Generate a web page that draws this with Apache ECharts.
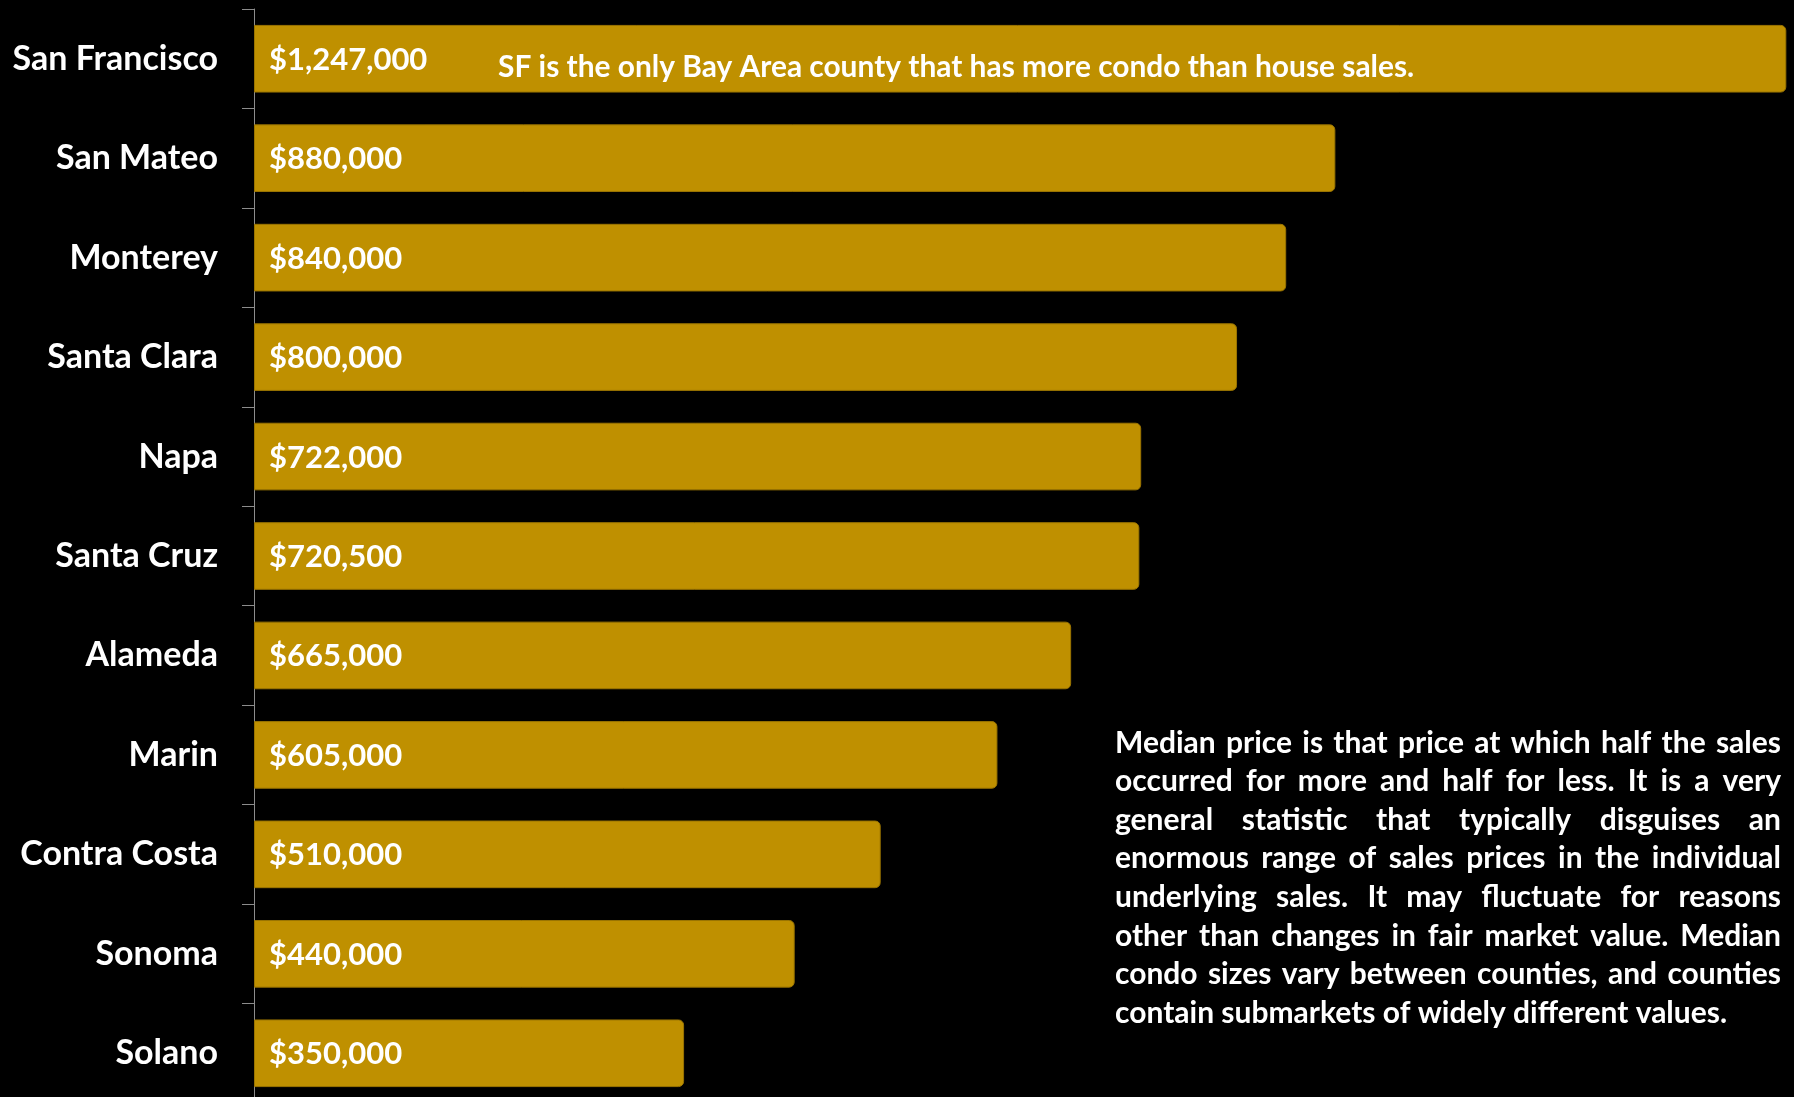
<!DOCTYPE html>
<html>
<head>
<meta charset="utf-8">
<title>Median Condo Prices by County</title>
<script src="https://cdn.jsdelivr.net/npm/echarts@6/dist/echarts.min.js"></script>
<style>
  html, body { margin: 0; padding: 0; background: #000; overflow: hidden; }
  /* the last band runs a few pixels past the bottom of the window */
  #chart { width: 1794px; height: 1103px; }
</style>
</head>
<body>
<div id="chart"></div>
<script>
// Counties, top to bottom
const categories = [
  'San Francisco', 'San Mateo', 'Monterey', 'Santa Clara', 'Napa',
  'Santa Cruz', 'Alameda', 'Marin', 'Contra Costa', 'Sonoma', 'Solano'
];
// Median condo sale price per county (USD)
const medianPrices = [
  1247000, 880000, 840000, 800000, 722000,
  720500, 665000, 605000, 510000, 440000, 350000
];
const sfNote = 'SF is the only Bay Area county that has more condo than house sales.';
const medianNoteLines = [
  'Median price is that price at which half the sales',
  'occurred for more and half for less. It is a very',
  'general statistic that typically disguises an',
  'enormous range of sales prices in the individual',
  'underlying sales. It may fluctuate for reasons',
  'other than changes in fair market value. Median',
  'condo sizes vary between counties, and counties',
  'contain submarkets of widely different values.'
];

const FONT = 'Lato, "Open Sans", sans-serif';
const GOLD = '#BF9000';

const chart = echarts.init(document.getElementById('chart'), null, { renderer: 'canvas' });

// Justified paragraph: each word placed so every line but the last spans the block width
function justifiedParagraph(lines, left, firstY, width, lineHeight, fontSize) {
  const ctx = document.createElement('canvas').getContext('2d');
  const font = 'bold ' + fontSize + 'px ' + FONT;
  ctx.font = font;
  const spaceW = ctx.measureText(' ').width;
  const elements = [];
  lines.forEach((line, i) => {
    const words = line.split(' ');
    const widths = words.map(w => ctx.measureText(w).width);
    const total = widths.reduce((a, b) => a + b, 0);
    const last = i === lines.length - 1;
    const gap = (last || words.length < 2) ? spaceW : (width - total) / (words.length - 1);
    let x = left;
    const y = firstY + i * lineHeight;
    words.forEach((w, k) => {
      elements.push({
        type: 'text',
        x: x,
        y: y,
        z: 100,
        style: {
          text: w,
          fill: '#fff',
          font: font,
          textAlign: 'left',
          textVerticalAlign: 'middle'
        },
        silent: true
      });
      x += widths[k] + gap;
    });
  });
  return elements;
}

const option = {
  backgroundColor: '#000',
  animation: false,
  grid: { left: 254, right: 4, top: 9, bottom: 0, containLabel: false },
  xAxis: {
    type: 'value',
    min: 0,
    max: 1250000,
    show: false
  },
  yAxis: {
    type: 'category',
    data: categories,
    inverse: true,
    axisLine: { show: true, lineStyle: { color: '#8c8c8c', width: 1 } },
    axisTick: { show: true, length: 12, lineStyle: { color: '#8c8c8c', width: 1 } },
    axisLabel: {
      color: '#fff',
      fontFamily: FONT,
      fontWeight: 'bold',
      fontSize: 34,
      margin: 36
    },
    splitLine: { show: false }
  },
  series: [{
    type: 'bar',
    data: medianPrices,
    barCategoryGap: '32%',
    itemStyle: {
      color: GOLD,
      borderColor: '#9a7400',
      borderWidth: 1,
      borderRadius: [0, 5, 5, 0]
    },
    label: {
      show: true,
      position: 'insideLeft',
      distance: 15,
      offset: [0, 1],
      color: '#fff',
      fontFamily: FONT,
      fontWeight: 'bold',
      fontSize: 31,
      formatter: p => '$' + p.value.toLocaleString('en-US')
    }
  }],
  graphic: [
    {
      type: 'text',
      x: 498,
      y: 67,
      z: 100,
      style: {
        text: sfNote,
        fill: '#fff',
        font: 'bold 29.9px ' + FONT,
        textAlign: 'left',
        textVerticalAlign: 'middle'
      },
      silent: true
    },
    {
      type: 'group',
      children: justifiedParagraph(medianNoteLines, 1115, 743, 666, 38.6, 30)
    }
  ]
};

chart.setOption(option);
</script>
</body>
</html>
